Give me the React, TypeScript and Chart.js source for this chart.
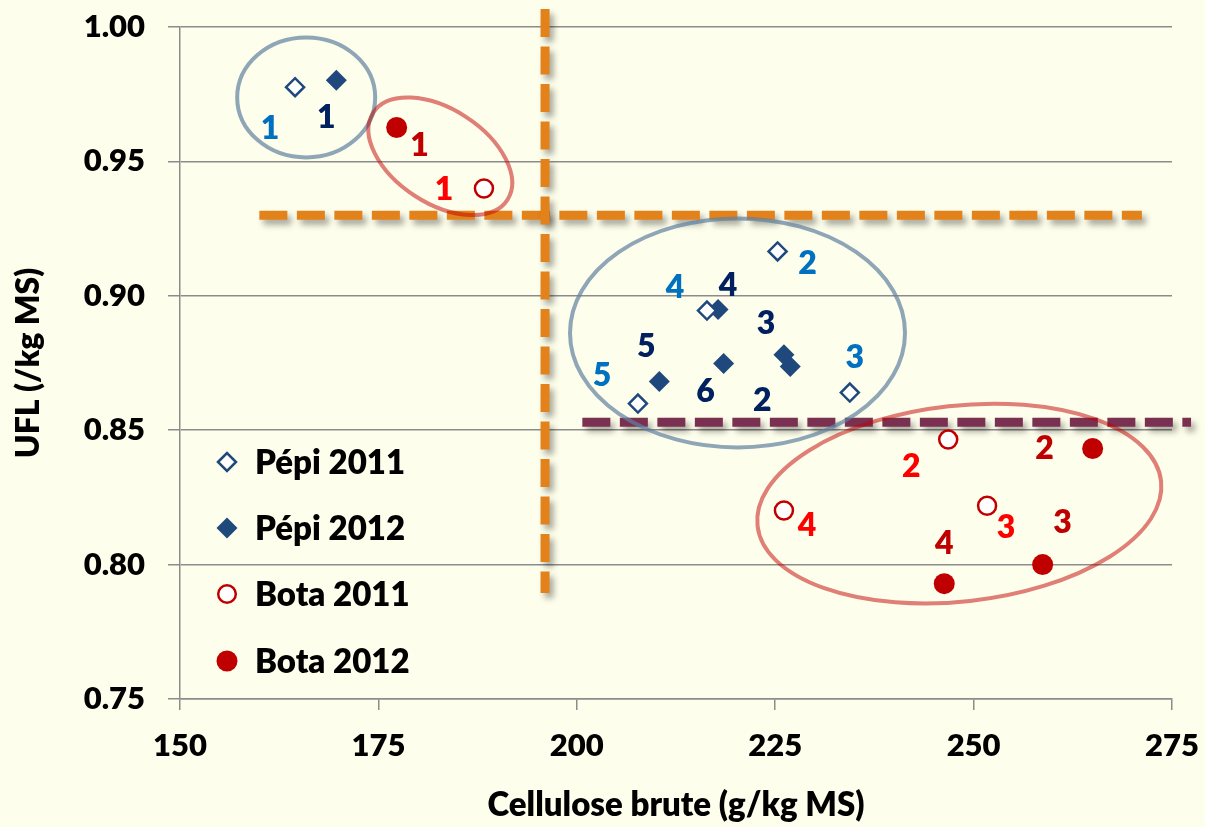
import React, { useEffect, useRef } from 'react';
import { Chart, registerables } from 'chart.js';

Chart.register(...registerables);

// ---------- data ----------
const X_TICKS = [150, 175, 200, 225, 250, 275];
const Y_TICKS = [0.75, 0.8, 0.85, 0.9, 0.95, 1.0];

const SERIES_NAMES = ['Pépi 2011', 'Pépi 2012', 'Bota 2011', 'Bota 2012'];

const PEPI_2011_X = [164.5, 225.3, 234.4, 216.4, 207.7];
const PEPI_2011_Y = [0.9776, 0.9165, 0.864, 0.8945, 0.8599];
const PEPI_2011_LABELS = ['1', '2', '3', '4', '5'];

const PEPI_2012_X = [169.7, 226.9, 226.1, 217.8, 210.4, 218.5];
const PEPI_2012_Y = [0.9802, 0.8737, 0.8781, 0.8949, 0.8681, 0.8748];
const PEPI_2012_LABELS = ['1', '2', '3', '4', '5', '6'];

const BOTA_2011_X = [188.3, 246.8, 251.7, 226.1];
const BOTA_2011_Y = [0.9399, 0.8465, 0.8219, 0.8201];
const BOTA_2011_LABELS = ['1', '2', '3', '4'];

const BOTA_2012_X = [177.3, 265.0, 258.7, 246.3];
const BOTA_2012_Y = [0.9626, 0.8432, 0.8, 0.7929];
const BOTA_2012_LABELS = ['1', '2', '3', '4'];

// threshold guide lines (data units)
const CB_THRESHOLD = 196;
const CB_LINE_Y = [1.0067, 0.7894];
const UFL_HIGH = 0.93;
const UFL_HIGH_X = [160, 271.2];
const UFL_LOW = 0.853;
const UFL_LOW_X = [200.7, 277.4];

// group ellipses: centres in data units
const ELLIPSE_CX = [165.9, 182.8, 220.25, 248.2];
const ELLIPSE_CY = [0.9738, 0.9519, 0.8862, 0.8227];

// ---------- styles ----------
const BG = '#FEFEEC';
const FONT = 'Lato, "Open Sans", sans-serif';
const WEIGHT = '800';
const BLUE = '#1F497D';
const RED = '#C00000';
const LABEL_COLORS = ['#0070C0', '#002060', '#FF0000', '#C00000'];
const ORANGE = '#E3821A';
const MAROON = '#7A3050';
const GRID = '#8C8C8C';

// label offsets in px relative to each point
const LABEL_OFFSETS = [
  [[-25, 41], [30, 12], [5, -35], [-32, -23], [-36, -28]],
  [[-10, 37], [-28, 34], [-18, -31], [10, -24], [-13, -35], [-18, 28]],
  [[-40, 1], [-37, 27], [19, 22], [23, 15]],
  [[23, 18], [-48, 0], [20, -42], [0, -40]],
];

const ELLIPSE_STYLE = [
  { rx: 69, ry: 60, rot: 0, color: 'rgba(96,128,160,0.7)' },
  { rx: 80, ry: 47, rot: 33, color: 'rgba(192,0,0,0.5)' },
  { rx: 167.5, ry: 114.5, rot: 0, color: 'rgba(96,128,160,0.7)' },
  { rx: 203, ry: 98, rot: -6.3, color: 'rgba(192,0,0,0.5)' },
];

const LEGEND_ROWS_Y = [462, 528, 594, 661];
const LEGEND_MARK_X = 227;
const LEGEND_TEXT_X = 255;

const zip = (xs: number[], ys: number[]) => xs.map((x, i) => ({ x, y: ys[i] }));

const bgPlugin = {
  id: 'bgFill',
  beforeDraw(chart: any) {
    const { ctx, width, height } = chart;
    ctx.save();
    ctx.fillStyle = BG;
    ctx.fillRect(0, 0, width, height);
    ctx.restore();
  },
};

const shadowPlugin = {
  id: 'guideShadow',
  beforeDatasetDraw(chart: any, args: any) {
    const ds = chart.data.datasets[args.index];
    if (ds.isGuide) {
      const ctx = chart.ctx;
      ctx.save();
      ctx.shadowColor = 'rgba(0,0,0,0.35)';
      ctx.shadowBlur = 6;
      ctx.shadowOffsetX = 4;
      ctx.shadowOffsetY = 5;
    }
  },
  afterDatasetDraw(chart: any, args: any) {
    const ds = chart.data.datasets[args.index];
    if (ds.isGuide) chart.ctx.restore();
  },
};

function drawDiamond(ctx: CanvasRenderingContext2D, x: number, y: number, r: number) {
  ctx.beginPath();
  ctx.moveTo(x - r, y);
  ctx.lineTo(x, y - r);
  ctx.lineTo(x + r, y);
  ctx.lineTo(x, y + r);
  ctx.closePath();
}

const annotPlugin = {
  id: 'annotations',
  afterDatasetsDraw(chart: any) {
    const ctx: CanvasRenderingContext2D = chart.ctx;
    const xs = chart.scales.x;
    const ys = chart.scales.y;
    // ellipses
    ELLIPSE_CX.forEach((cx, i) => {
      const st = ELLIPSE_STYLE[i];
      ctx.save();
      ctx.beginPath();
      ctx.ellipse(
        xs.getPixelForValue(cx),
        ys.getPixelForValue(ELLIPSE_CY[i]),
        st.rx,
        st.ry,
        (st.rot * Math.PI) / 180,
        0,
        Math.PI * 2
      );
      ctx.lineWidth = 4;
      ctx.strokeStyle = st.color;
      ctx.stroke();
      ctx.restore();
    });
    // point labels
    const labels = [PEPI_2011_LABELS, PEPI_2012_LABELS, BOTA_2011_LABELS, BOTA_2012_LABELS];
    ctx.save();
    ctx.font = `${WEIGHT} 32px ${FONT}`;
    ctx.textAlign = 'center';
    ctx.textBaseline = 'middle';
    labels.forEach((labs, si) => {
      const meta = chart.getDatasetMeta(si);
      ctx.fillStyle = LABEL_COLORS[si];
      labs.forEach((t, j) => {
        const el = meta.data[j];
        const off = LABEL_OFFSETS[si][j];
        ctx.fillText(t, el.x + off[0], el.y + off[1]);
      });
    });
    ctx.restore();
    // legend
    ctx.save();
    ctx.font = `${WEIGHT} 33px ${FONT}`;
    ctx.textAlign = 'left';
    ctx.textBaseline = 'middle';
    SERIES_NAMES.forEach((name, i) => {
      const y = LEGEND_ROWS_Y[i];
      const x = LEGEND_MARK_X;
      if (i === 0) {
        drawDiamond(ctx, x, y, 9);
        ctx.fillStyle = '#FFFFFF';
        ctx.fill();
        ctx.lineWidth = 2.5;
        ctx.strokeStyle = BLUE;
        ctx.stroke();
      } else if (i === 1) {
        drawDiamond(ctx, x, y, 10.5);
        ctx.fillStyle = BLUE;
        ctx.fill();
      } else if (i === 2) {
        ctx.beginPath();
        ctx.arc(x, y, 8.8, 0, Math.PI * 2);
        ctx.fillStyle = '#FFFFFF';
        ctx.fill();
        ctx.lineWidth = 2.5;
        ctx.strokeStyle = RED;
        ctx.stroke();
      } else {
        ctx.beginPath();
        ctx.arc(x, y, 10.5, 0, Math.PI * 2);
        ctx.fillStyle = RED;
        ctx.fill();
      }
      ctx.fillStyle = '#000000';
      ctx.fillText(name, LEGEND_TEXT_X, y + 1);
    });
    ctx.restore();
  },
};

export default function App() {
  const canvasRef = useRef<HTMLCanvasElement | null>(null);

  useEffect(() => {
    document.body.style.margin = '0';
    document.body.style.background = BG;
    let chart: Chart | null = null;
    let cancelled = false;

    const build = () => {
      if (cancelled || !canvasRef.current) return;
      chart = new Chart(canvasRef.current, {
        type: 'scatter',
        data: {
          datasets: [
            {
              label: SERIES_NAMES[0],
              data: zip(PEPI_2011_X, PEPI_2011_Y),
              pointStyle: 'rectRot',
              pointRadius: 9,
              backgroundColor: '#FFFFFF',
              borderColor: BLUE,
              borderWidth: 2.5,
            },
            {
              label: SERIES_NAMES[1],
              data: zip(PEPI_2012_X, PEPI_2012_Y),
              pointStyle: 'rectRot',
              pointRadius: 10.5,
              backgroundColor: BLUE,
              borderColor: BLUE,
              borderWidth: 0,
            },
            {
              label: SERIES_NAMES[2],
              data: zip(BOTA_2011_X, BOTA_2011_Y),
              pointStyle: 'circle',
              pointRadius: 9,
              backgroundColor: '#FFFFFF',
              borderColor: RED,
              borderWidth: 2.5,
            },
            {
              label: SERIES_NAMES[3],
              data: zip(BOTA_2012_X, BOTA_2012_Y),
              pointStyle: 'circle',
              pointRadius: 10.5,
              backgroundColor: RED,
              borderColor: RED,
              borderWidth: 0,
            },
            {
              label: 'CB threshold',
              isGuide: true,
              data: zip([CB_THRESHOLD, CB_THRESHOLD], CB_LINE_Y),
              showLine: true,
              borderColor: ORANGE,
              borderWidth: 9,
              borderDash: [28, 9.5],
              borderCapStyle: 'butt',
              pointRadius: 0,
              clip: false,
            } as any,
            {
              label: 'UFL high',
              isGuide: true,
              data: zip(UFL_HIGH_X, [UFL_HIGH, UFL_HIGH]),
              showLine: true,
              borderColor: ORANGE,
              borderWidth: 9,
              borderDash: [28, 9.5],
              borderCapStyle: 'butt',
              pointRadius: 0,
              clip: false,
            } as any,
            {
              label: 'UFL low',
              isGuide: true,
              data: zip(UFL_LOW_X, [UFL_LOW, UFL_LOW]),
              showLine: true,
              borderColor: MAROON,
              borderWidth: 9,
              borderDash: [28, 9.5],
              borderCapStyle: 'butt',
              pointRadius: 0,
              clip: false,
            } as any,
          ],
        },
        options: {
          responsive: false,
          animation: false,
          events: [],
          layout: { padding: { top: 27, right: 33, left: 0, bottom: 0 } },
          plugins: {
            legend: { display: false },
            tooltip: { enabled: false },
          },
          scales: {
            x: {
              type: 'linear',
              min: X_TICKS[0],
              max: X_TICKS[X_TICKS.length - 1],
              afterBuildTicks: (s: any) => {
                s.ticks = X_TICKS.map((v) => ({ value: v }));
              },
              afterFit: (s: any) => {
                s.height = 128;
                s.paddingLeft = 0;
                s.paddingRight = 0;
              },
              grid: {
                drawOnChartArea: false,
                drawTicks: true,
                tickLength: 11,
                color: GRID,
                lineWidth: 1.5,
              },
              border: { display: true, color: GRID, width: 1.5 },
              ticks: {
                color: '#000000',
                font: { family: FONT, size: 31, weight: WEIGHT },
                padding: 17,
                maxRotation: 0,
              },
              title: {
                display: true,
                text: 'Cellulose brute (g/kg MS)',
                color: '#000000',
                font: { family: FONT, size: 33, weight: WEIGHT },
                padding: { top: 0, bottom: 2 },
              },
            },
            y: {
              type: 'linear',
              min: Y_TICKS[0],
              max: Y_TICKS[Y_TICKS.length - 1],
              afterBuildTicks: (s: any) => {
                s.ticks = Y_TICKS.map((v) => ({ value: v }));
              },
              afterFit: (s: any) => {
                s.width = 180;
                s.paddingTop = 0;
                s.paddingBottom = 0;
              },
              grid: {
                drawOnChartArea: true,
                drawTicks: true,
                tickLength: 12,
                color: GRID,
                lineWidth: 1.5,
              },
              border: { display: true, color: GRID, width: 1.5 },
              ticks: {
                color: '#000000',
                font: { family: FONT, size: 31, weight: WEIGHT },
                padding: 23,
                callback: (v: any) => Number(v).toFixed(2),
              },
              title: {
                display: true,
                text: 'UFL (/kg MS)',
                color: '#000000',
                font: { family: FONT, size: 32, weight: WEIGHT },
                padding: { top: 9, bottom: 0 },
              },
            },
          },
        },
        plugins: [bgPlugin, shadowPlugin, annotPlugin],
      });
    };

    const fonts = (document as any).fonts;
    if (fonts && fonts.load) {
      Promise.all([
        fonts.load(`${WEIGHT} 30px Lato`),
        fonts.load(`bold 30px Lato`),
      ]).then(build, build);
    } else {
      build();
    }

    return () => {
      cancelled = true;
      if (chart) chart.destroy();
    };
  }, []);

  return (
    <div style={{ width: 1205, height: 827, background: BG }}>
      <canvas ref={canvasRef} width={1205} height={827} style={{ display: 'block' }} />
    </div>
  );
}
